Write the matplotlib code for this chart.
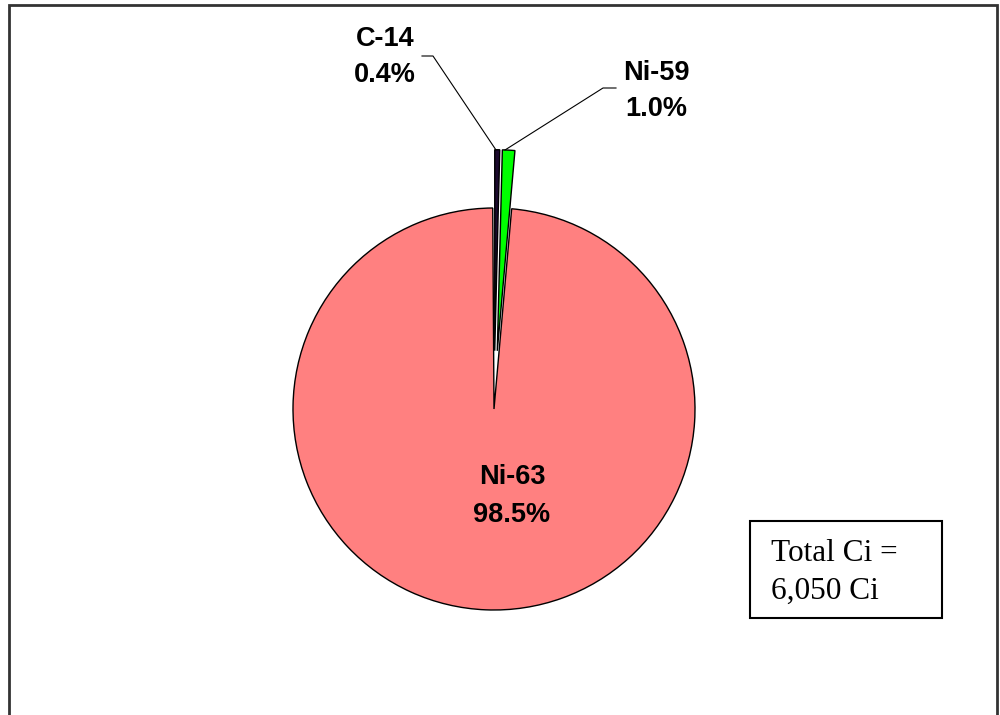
import matplotlib
matplotlib.use("Agg")
import matplotlib.pyplot as plt
from matplotlib.patches import Rectangle

# Activity share by nuclide (percent of total curies)
nuclides = ["C-14", "Ni-59", "Ni-63"]
percent = [0.4, 1.0, 98.5]
colors = ["#1c0a2e", "#00ff00", "#ff8080"]
explode_frac = [0.29, 0.29, 0.0]
total_ci = "6,050"

W, H = 1000, 715
fig = plt.figure(figsize=(W / 100, H / 100), dpi=100)
ax = fig.add_axes([0, 0, 1, 1])


def py(y):
    # convert top-down pixel row to axis y
    return H - y


cx, cy, r = 494, py(409), 201
# pie() applies explode as an absolute offset, so scale by the radius
wedges, _ = ax.pie(
    [p / 100 for p in percent],
    colors=colors,
    explode=[e * r for e in explode_frac],
    startangle=90,
    counterclock=False,
    normalize=False,
    center=(cx, cy),
    radius=r,
    wedgeprops=dict(edgecolor="black", linewidth=1.0),
    frame=True,
)
ax.set_xlim(0, W)
ax.set_ylim(0, H)
ax.set_aspect("equal")
ax.axis("off")

bold = dict(fontfamily="Liberation Sans", fontweight="bold", fontsize=19.5,
            ha="center", va="center", linespacing=1.55)

# Leader lines for the small exploded slices
ax.plot([422, 433, 496], [py(56), py(56), py(150)], color="black", lw=0.8)
ax.plot([616, 603, 505], [py(88), py(88), py(150)], color="black", lw=0.8)

ax.text(385, py(57), f"{nuclides[0]}\n{percent[0]:.1f}%", **bold)
ax.text(656, py(91), f"{nuclides[1]}\n{percent[1]:.1f}%", **bold)
ax.text(512, py(496), f"{nuclides[2]}\n{percent[2]:.1f}%", **bold)

# Total activity box
ax.add_patch(Rectangle((750, py(618)), 192, 97, fill=False,
                       edgecolor="black", lw=1.5))
ax.text(771, py(572), f"Total Ci =\n{total_ci} Ci", fontfamily="Liberation Serif",
        fontsize=22.5, ha="left", va="center", linespacing=1.4)

# Outer frame
ax.plot([9, 9, 997, 997], [-10, py(5), py(5), -10], color="#333333", lw=2,
        solid_joinstyle="miter")

fig.savefig("out.png", dpi=100)
